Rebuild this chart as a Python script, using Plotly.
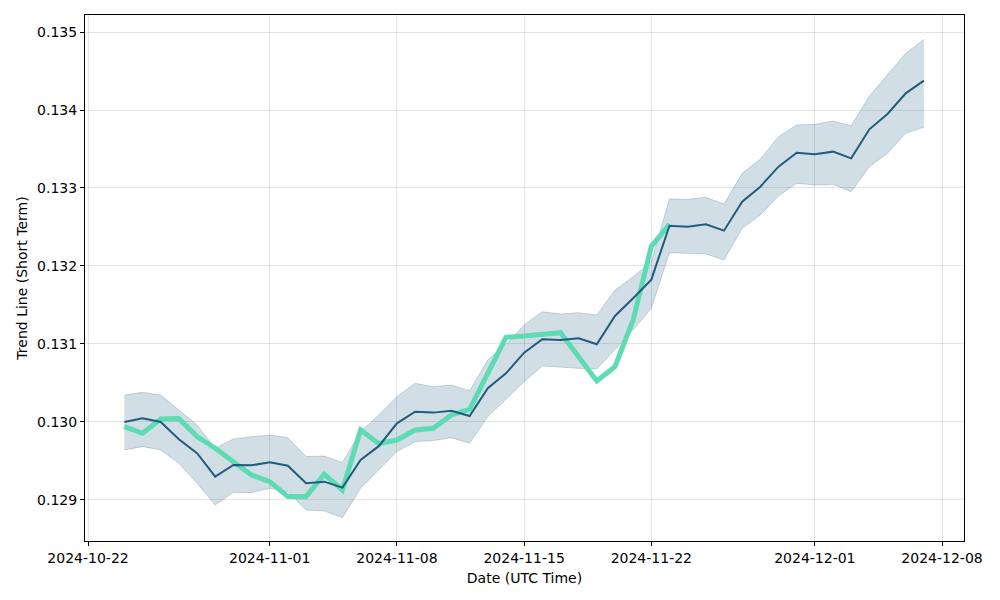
import pandas as pd
import plotly.graph_objects as go

# 日期 (每日, 2024-10-24 ~ 2024-12-07)
dates = pd.date_range("2024-10-24", "2024-12-07", freq="D")

trend = [
    0.13000, 0.130047, 0.13000, 0.129778, 0.129599, 0.129299, 0.129449, 0.129445,
    0.129483, 0.12944, 0.129214, 0.129235, 0.129158, 0.129513, 0.12969, 0.129983,
    0.130132, 0.13012, 0.130145, 0.130077, 0.130432, 0.130624, 0.130889, 0.13106,
    0.131051, 0.131073, 0.130996, 0.131359, 0.131586, 0.131825, 0.132517, 0.132504,
    0.132535, 0.132453, 0.132824, 0.133017, 0.133273, 0.133453, 0.133432, 0.133466,
    0.13338, 0.133752, 0.133949, 0.134214, 0.134376,
]

upper = [
    0.130346, 0.13038, 0.130346, 0.130154, 0.129962, 0.129663, 0.129782, 0.129812,
    0.129833, 0.129799, 0.129556, 0.129564, 0.129479, 0.129876, 0.130090, 0.130325,
    0.130496, 0.130453, 0.130474, 0.130401, 0.130795, 0.130996, 0.131244, 0.131414,
    0.131385, 0.131401, 0.131372, 0.131692, 0.131863, 0.132055, 0.132859, 0.132855,
    0.13288, 0.132795, 0.133188, 0.133372, 0.133658, 0.133808, 0.133816, 0.133859,
    0.133799, 0.134179, 0.134457, 0.134726, 0.134906,
]

lower = [
    0.129641, 0.129684, 0.129641, 0.12947, 0.129214, 0.128936, 0.129098, 0.129094,
    0.12915, 0.129107, 0.128872, 0.128859, 0.128773, 0.12915, 0.129385, 0.12962,
    0.129748, 0.129761, 0.129799, 0.129726, 0.130068, 0.130291, 0.130517, 0.130718,
    0.130701, 0.130688, 0.130679, 0.130923, 0.131179, 0.131457, 0.132171, 0.132162,
    0.132154, 0.132077, 0.132483, 0.132654, 0.132897, 0.13306, 0.133038, 0.133047,
    0.132953, 0.133273, 0.133444, 0.133701, 0.133778,
]

# 价格 (到 2024-11-23)
price = [
    0.12994, 0.129855, 0.130038, 0.130043, 0.129812, 0.129663, 0.129491, 0.129321,
    0.129235, 0.129043, 0.129043, 0.129329, 0.129128, 0.129897, 0.129722, 0.129769,
    0.129897, 0.129919, 0.13009, 0.130163, 0.130624, 0.131085, 0.131103, 0.131124,
    0.131145, 0.130837, 0.130526, 0.130709, 0.131308, 0.13225, 0.132535,
]

x_ticks = ["2024-10-22", "2024-11-01", "2024-11-08", "2024-11-15",
           "2024-11-22", "2024-12-01", "2024-12-08"]
y_ticks = [0.129, 0.130, 0.131, 0.132, 0.133, 0.134, 0.135]

DARK = "#1f5c7e"
GREEN = "#5ddcb4"
FONT = "DejaVu Sans"

fig = go.Figure()

# 置信区间
fig.add_trace(go.Scatter(x=dates, y=upper, mode="lines",
                         line=dict(color="rgba(31,92,126,0.22)", width=1),
                         showlegend=False, hoverinfo="skip"))
fig.add_trace(go.Scatter(x=dates, y=lower, mode="lines",
                         line=dict(color="rgba(31,92,126,0.22)", width=1),
                         fill="tonexty", fillcolor="rgba(31,92,126,0.2)",
                         showlegend=False, hoverinfo="skip"))

# 价格曲线
fig.add_trace(go.Scatter(x=dates[:len(price)], y=price, mode="lines",
                         line=dict(color=GREEN, width=5),
                         showlegend=False))

# 趋势线
fig.add_trace(go.Scatter(x=dates, y=trend, mode="lines",
                         line=dict(color=DARK, width=2),
                         showlegend=False))

axis_common = dict(
    showline=True, linecolor="black", linewidth=1, mirror=True,
    ticks="outside", ticklen=4, tickcolor="black",
    showgrid=True, gridcolor="rgba(0,0,0,0.1)", gridwidth=1,
    zeroline=False,
    tickfont=dict(family=FONT, size=14, color="black"),
)

fig.update_xaxes(
    range=[pd.Timestamp("2024-10-21 20:00"), pd.Timestamp("2024-12-09 05:00")],
    tickvals=x_ticks, tickformat="%Y-%m-%d",
    title=dict(text="Date (UTC Time)", font=dict(family=FONT, size=14, color="black"),
               standoff=8),
    **axis_common,
)
fig.update_yaxes(
    range=[0.128474, 0.135218],
    tickvals=y_ticks, tickformat=".3f",
    title=dict(text="Trend Line (Short Term)", font=dict(family=FONT, size=14, color="black"),
               standoff=6),
    **axis_common,
)

# 页面 body 有 8px 边距, 所以图尺寸和边距相应缩小
fig.update_layout(
    width=992, height=592,
    margin=dict(l=77, r=36, t=7, b=59),
    plot_bgcolor="white", paper_bgcolor="white",
    font=dict(family=FONT, size=14, color="black"),
    showlegend=False,
)

fig.write_html("out.html")
